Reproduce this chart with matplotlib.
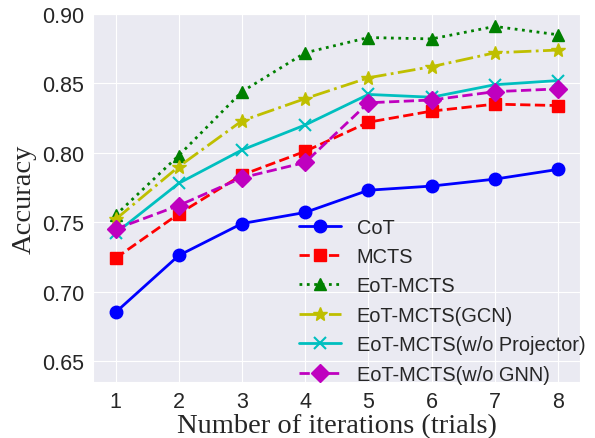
import matplotlib
matplotlib.use("Agg")
import matplotlib.pyplot as plt
import seaborn as sns

sns.set_style("darkgrid")
plt.rcParams['font.family'] = ['Liberation Sans', 'DejaVu Sans']

iterations = [1, 2, 3, 4, 5, 6, 7, 8]
cot = [0.685, 0.726, 0.749, 0.757, 0.773, 0.776, 0.781, 0.788]
mcts = [0.724, 0.756, 0.784, 0.801, 0.822, 0.830, 0.835, 0.834]
eot_mcts = [0.755, 0.798, 0.844, 0.872, 0.883, 0.882, 0.891, 0.885]
eot_gcn = [0.752, 0.790, 0.823, 0.839, 0.854, 0.862, 0.872, 0.874]
eot_no_proj = [0.742, 0.778, 0.802, 0.820, 0.842, 0.840, 0.849, 0.852]
eot_no_gnn = [0.745, 0.762, 0.782, 0.793, 0.836, 0.838, 0.844, 0.846]

fig, ax = plt.subplots(figsize=(5.95, 4.39), dpi=100)

ax.plot(iterations, cot, 'b-o', lw=2, ms=9, label='CoT')
ax.plot(iterations, mcts, 'r--s', lw=2, ms=9, label='MCTS')
ax.plot(iterations, eot_mcts, 'g:^', lw=2, ms=9, label='EoT-MCTS')
ax.plot(iterations, eot_gcn, 'y-.*', lw=2, ms=10, label='EoT-MCTS(GCN)')
ax.plot(iterations, eot_no_proj, 'c-x', lw=2, ms=9, mew=1.5, label='EoT-MCTS(w/o Projector)')
ax.plot(iterations, eot_no_gnn, 'm--D', lw=2, ms=9, label='EoT-MCTS(w/o GNN)')

ax.set_ylim(0.635, 0.9)
ax.set_yticks([0.65, 0.70, 0.75, 0.80, 0.85, 0.90])
ax.set_xticks(iterations)
ax.tick_params(labelsize=15.5, labelcolor='#262626', pad=3)
ax.set_xlabel('Number of iterations (trials)', fontsize=20.5, family='Liberation Serif', labelpad=1)
ax.set_ylabel('Accuracy', fontsize=20.5, family='Liberation Serif')

ax.legend(loc='lower right', bbox_to_anchor=(1.048, -0.054), fontsize=14.4,
          frameon=False, handlelength=2.1, handletextpad=0.8, labelspacing=0.52)

fig.subplots_adjust(left=0.157, right=0.975, top=0.966, bottom=0.128)
fig.savefig('out.png', dpi=100)
